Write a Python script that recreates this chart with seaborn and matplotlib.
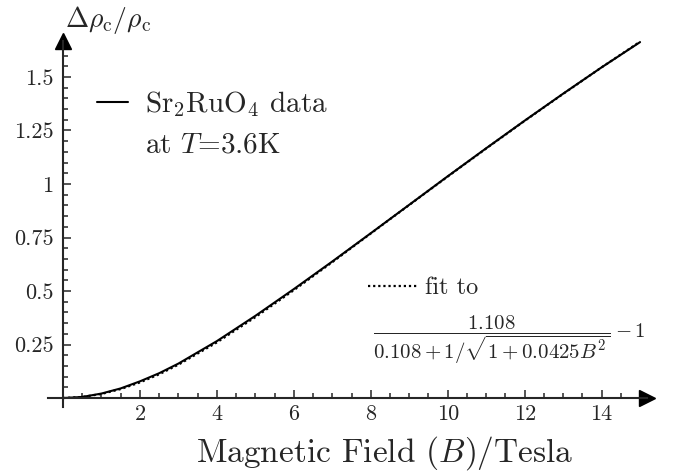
import numpy as np
import pandas as pd
import seaborn as sns
from matplotlib import pyplot as plt
from matplotlib.ticker import MultipleLocator

# values
field = [0, 0.5, 1, 1.5, 2, 2.5, 3, 4, 5, 6, 7, 8, 9, 10, 11, 12, 13, 14, 15]
data_rho = [0, 0.005, 0.021, 0.045, 0.078, 0.116, 0.161, 0.266, 0.384, 0.509,
            0.638, 0.770, 0.903, 1.036, 1.167, 1.296, 1.422, 1.545, 1.663]
fit_rho = [0, 0.005, 0.019, 0.042, 0.073, 0.111, 0.156, 0.260, 0.378, 0.504,
           0.635, 0.769, 0.902, 1.035, 1.166, 1.295, 1.421, 1.545, 1.665]
xticks = [2, 4, 6, 8, 10, 12, 14]
yticks = [0.25, 0.5, 0.75, 1, 1.25, 1.5]
ytick_labels = ['0.25', '0.5', '0.75', '1', '1.25', '1.5']

sns.set_style('ticks')
plt.rcParams['font.family'] = ['cmr10', 'DejaVu Serif']
plt.rcParams['mathtext.fontset'] = 'cm'
plt.rcParams['axes.unicode_minus'] = False

W, H = 678, 474
fig = plt.figure(figsize=(W / 100, H / 100), dpi=100)
ax = fig.add_axes([48 / W, 1 - 406.6 / H, 599 / W, 366 / H])

df = pd.DataFrame({'B': field, 'data': data_rho, 'fit': fit_rho})
sns.lineplot(data=df, x='B', y='data', ax=ax, color='black', lw=1.5, clip_on=False)
sns.lineplot(data=df, x='B', y='fit', ax=ax, color='black', lw=1.6,
             linestyle=(0, (1, 1.3)), clip_on=False)
h_data, h_fit = ax.get_lines()[0], ax.get_lines()[1]

ax.set_xlim(-0.39, 15.18)
ax.set_ylim(-0.04, 1.67)

for s in ['top', 'right']:
    ax.spines[s].set_visible(False)
ax.spines['left'].set_position(('data', 0))
ax.spines['bottom'].set_position(('data', 0))
for s in ['left', 'bottom']:
    ax.spines[s].set_linewidth(1.5)

# arrow heads
ax.plot(1, 0, '>k', ms=12, transform=ax.get_yaxis_transform(), clip_on=False)
ax.plot(0, 1, '^k', ms=12, transform=ax.get_xaxis_transform(), clip_on=False)

ax.set_xticks(xticks)
ax.set_xticklabels([str(t) for t in xticks])
ax.set_yticks(yticks)
ax.set_yticklabels(ytick_labels)
ax.xaxis.set_minor_locator(MultipleLocator(0.5))
ax.yaxis.set_minor_locator(MultipleLocator(0.05))
ax.tick_params(which='major', direction='in', length=6, width=1.1, labelsize=16)
ax.tick_params(which='minor', direction='in', length=3.5, width=1.1)
ax.tick_params(axis='x', pad=5)
ax.tick_params(axis='y', pad=7)
ax.set_xlabel('')
ax.set_ylabel('')

fig.text(65 / W, 1 - 20 / H, r'$\Delta\rho_{\rm c}/\rho_{\rm c}$', fontsize=20,
         ha='left', va='center')
fig.text(385 / W, 1 - 453 / H, r'Magnetic Field $(B)$/Tesla', fontsize=24,
         ha='center', va='center')

leg1 = ax.legend([h_data], [r'Sr$_2$RuO$_4$ data'], loc='center left',
                 bbox_to_anchor=(97 / W, 1 - 104 / H), bbox_transform=fig.transFigure,
                 frameon=False, fontsize=21, handlelength=1.06, handletextpad=0.58,
                 borderpad=0, borderaxespad=0)
ax.add_artist(leg1)
fig.text(145 / W, 1 - 145 / H, r'at $T$=3.6K', fontsize=21, ha='left', va='center')

ax.legend([h_fit], ['fit to'], loc='center left',
          bbox_to_anchor=(368 / W, 1 - 288 / H), bbox_transform=fig.transFigure,
          frameon=False, fontsize=17.5, handlelength=2.0, handletextpad=0.35,
          borderpad=0, borderaxespad=0)
fig.text(373 / W, 1 - 340 / H, r'$\dfrac{1.108}{0.108+1/\sqrt{1+0.0425B^2}}-1$',
         fontsize=15, ha='left', va='center')

fig.savefig('out.png', dpi=100)
